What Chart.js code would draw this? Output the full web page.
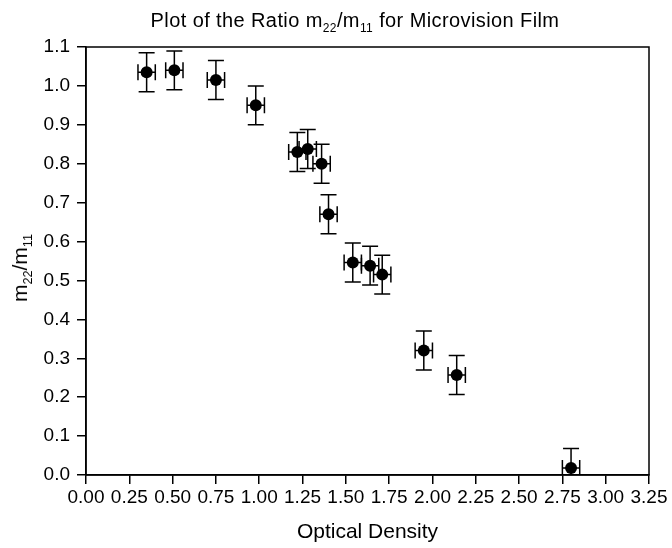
<!DOCTYPE html>
<html>
<head>
<meta charset="utf-8">
<script src="https://cdn.jsdelivr.net/npm/chart.js@4.4.1/dist/chart.umd.min.js"></script>
<style>
  body { margin: 0; background: #fff; }
  #wrap { position: relative; width: 672px; height: 548px; font-family: "Liberation Sans", Arial, sans-serif; color: #000; }
  #title { position: absolute; left: 0; top: 8px; width: 710px; text-align: center; font-size: 20px; line-height: 24px; letter-spacing: 0.4px; white-space: nowrap; }
  #ytitle { position: absolute; left: 20px; top: 268px; transform: translate(-50%, -50%) rotate(-90deg); font-size: 21px; line-height: 20px; white-space: nowrap; }
  sub { font-size: 0.6em; line-height: 0; vertical-align: -0.4em; }
</style>
</head>
<body>
<div id="wrap">
  <canvas id="chart" width="672" height="548"></canvas>
  <div id="title">Plot of the Ratio m<sub>22</sub>/m<sub>11</sub> for Microvision Film</div>
  <div id="ytitle">m<sub>22</sub>/m<sub>11</sub></div>
</div>
<script>
// datos
var density = [0.35, 0.51, 0.75, 0.98, 1.22, 1.28, 1.36, 1.40, 1.54, 1.64, 1.71, 1.95, 2.14, 2.80];
var ratio = [1.035, 1.04, 1.015, 0.95, 0.83, 0.838, 0.80, 0.67, 0.546, 0.538, 0.515, 0.32, 0.257, 0.018];
var densityErr = [0.05, 0.05, 0.05, 0.05, 0.05, 0.05, 0.05, 0.05, 0.05, 0.05, 0.05, 0.05, 0.05, 0.05];
var ratioErr = [0.05, 0.05, 0.05, 0.05, 0.05, 0.05, 0.05, 0.05, 0.05, 0.05, 0.05, 0.05, 0.05, 0.05];

var xTicks = [0, 0.25, 0.5, 0.75, 1.0, 1.25, 1.5, 1.75, 2.0, 2.25, 2.5, 2.75, 3.0, 3.25];
var yTicks = [0, 0.1, 0.2, 0.3, 0.4, 0.5, 0.6, 0.7, 0.8, 0.9, 1.0, 1.1];

var points = density.map(function(d, i) {
    return { x: d, y: ratio[i], xe: densityErr[i], ye: ratioErr[i] };
});

// barras de error + marco del área
var errorBars = {
    id: "errorBars",
    beforeDatasetsDraw: function(chart) {
        var ctx = chart.ctx;
        var xs = chart.scales.x, ys = chart.scales.y;
        var area = chart.chartArea;
        var cap = 8;
        ctx.save();
        ctx.beginPath();
        ctx.rect(area.left, area.top, area.right - area.left, area.bottom - area.top);
        ctx.clip();
        ctx.strokeStyle = "#000";
        ctx.lineWidth = 1.5;
        chart.data.datasets[0].data.forEach(function(p) {
            var px = xs.getPixelForValue(p.x);
            var py = ys.getPixelForValue(p.y);
            var x0 = xs.getPixelForValue(p.x - p.xe), x1 = xs.getPixelForValue(p.x + p.xe);
            var y0 = ys.getPixelForValue(p.y - p.ye), y1 = ys.getPixelForValue(p.y + p.ye);
            ctx.beginPath();
            ctx.moveTo(px, y0); ctx.lineTo(px, y1);
            ctx.moveTo(px - cap, y0); ctx.lineTo(px + cap, y0);
            ctx.moveTo(px - cap, y1); ctx.lineTo(px + cap, y1);
            ctx.moveTo(x0, py); ctx.lineTo(x1, py);
            ctx.moveTo(x0, py - cap); ctx.lineTo(x0, py + cap);
            ctx.moveTo(x1, py - cap); ctx.lineTo(x1, py + cap);
            ctx.stroke();
        });
        ctx.restore();
    },
    afterDraw: function(chart) {
        var ctx = chart.ctx, a = chart.chartArea;
        ctx.save();
        ctx.strokeStyle = "#000";
        ctx.lineWidth = 1.5;
        ctx.strokeRect(a.left, a.top, a.right - a.left, a.bottom - a.top);
        ctx.restore();
    }
};

var ctx = document.getElementById("chart").getContext("2d");
var chart = new Chart(ctx, {
    type: "scatter",
    data: {
        datasets: [{
            data: points,
            backgroundColor: "#000",
            borderWidth: 0,
            pointRadius: 6,
            pointHoverRadius: 6
        }]
    },
    options: {
        responsive: false,
        animation: false,
        layout: { padding: { top: 47, right: 23, left: 0, bottom: 0 } },
        plugins: {
            legend: { display: false },
            tooltip: { enabled: false }
        },
        scales: {
            x: {
                type: "linear",
                min: 0,
                max: 3.25,
                afterBuildTicks: function(scale) {
                    scale.ticks = xTicks.map(function(v) { return { value: v }; });
                },
                afterFit: function(scale) { scale.height = 73; },
                grid: { drawOnChartArea: false, color: "#000", lineWidth: 1.5, tickLength: 9 },
                border: { color: "#000", width: 1.5 },
                ticks: {
                    autoSkip: false,
                    maxRotation: 0,
                    padding: 2,
                    color: "#000",
                    font: { family: "'Liberation Sans', Arial, sans-serif", size: 19 },
                    callback: function(v) { return Number(v).toFixed(2); }
                },
                title: {
                    display: true,
                    text: "Optical Density",
                    color: "#000",
                    font: { family: "'Liberation Sans', Arial, sans-serif", size: 21 },
                    padding: { top: 0, bottom: 3 }
                }
            },
            y: {
                type: "linear",
                min: 0,
                max: 1.1,
                afterBuildTicks: function(scale) {
                    scale.ticks = yTicks.map(function(v) { return { value: v }; });
                },
                afterFit: function(scale) { scale.width = 86; },
                grid: { drawOnChartArea: false, color: "#000", lineWidth: 1.5, tickLength: 9 },
                border: { color: "#000", width: 1.5 },
                ticks: {
                    autoSkip: false,
                    padding: 7,
                    color: "#000",
                    font: { family: "'Liberation Sans', Arial, sans-serif", size: 19 },
                    callback: function(v) { return Number(v).toFixed(1); }
                }
            }
        }
    },
    plugins: [errorBars]
});
</script>
</body>
</html>
